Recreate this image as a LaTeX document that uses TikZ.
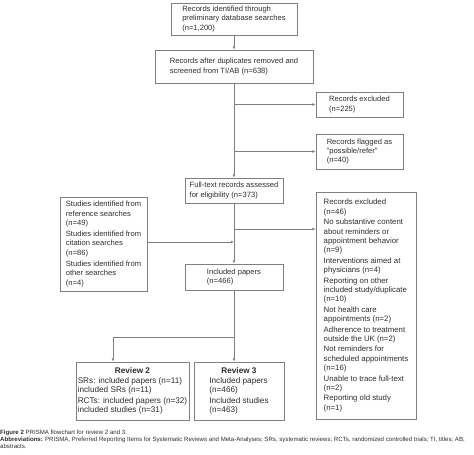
\documentclass[tikz,border=0pt]{standalone}
\usepackage{fontspec}
\usepackage{calc}
\setmainfont{Liberation Sans}
\usetikzlibrary{arrows.meta,positioning,calc}
\definecolor{linegray}{RGB}{128,128,128}
\definecolor{textgray}{RGB}{45,45,45}

\begin{document}
\begin{tikzpicture}[x=1pt,y=-1pt,
    box/.style={draw=linegray, line width=0.7pt, align=left, text=textgray,
        font=\fontsize{7.6}{9.4}\selectfont, inner sep=0pt},
    revbox/.style={box, font=\fontsize{8.2}{9.5}\selectfont},
    arr/.style={draw=linegray, line width=0.7pt, -{Latex[length=3.2pt,width=2.8pt]}},
    ln/.style={draw=linegray, line width=0.7pt}]
    \useasboundingbox (0,0) rectangle (474,455);

    % main column
    \node[box, minimum width=126pt, minimum height=32pt] (ident) at (234,19)
        {Records identified through\\preliminary database searches\\(n=1,200)};
    \node[box, minimum width=158pt, minimum height=33pt] (dedup) at (234,66.5)
        {Records after duplicates removed and\\screened from TI/AB (n=638)};
    \node[box, minimum width=98pt, minimum height=25pt] (full) at (234,190.5)
        {Full-text records assessed\\for eligibility (n=373)};
    \node[box, minimum width=98pt, minimum height=26pt] (incl) at (234,277)
        {Included papers\\(n=466)};

    % right column
    \node[box, minimum width=87pt, minimum height=25pt] (excl1) at (359.5,104.5)
        {Records excluded\\(n=225)};
    \node[box, minimum width=87pt, minimum height=35pt] (flag) at (359.5,151.5)
        {Records flagged as\\"possible/refer"\\(n=40)};
    \node[box, font=\fontsize{7.8}{9.4}\selectfont, minimum width=100pt, minimum height=227pt] (excl2) at (366,305.5)
        {Records excluded\\(n=46)\\[1pt]
         No substantive content\\about reminders or\\appointment behavior\\(n=9)\\[1pt]
         Interventions aimed at\\physicians (n=4)\\[1pt]
         Reporting on other\\included study/duplicate\\(n=10)\\[1pt]
         Not health care\\appointments (n=2)\\[1pt]
         Adherence to treatment\\outside the UK (n=2)\\[1pt]
         Not reminders for\\scheduled appointments\\(n=16)\\[1pt]
         Unable to trace full-text\\(n=2)\\[1pt]
         Reporting old study\\(n=1)};

    % left column
    \node[box, minimum width=87pt, minimum height=94pt] (other) at (103.5,244)
        {Studies identified from\\reference searches\\(n=49)\\[1.5pt]
         Studies identified from\\citation searches\\(n=86)\\[1.5pt]
         Studies identified from\\other searches\\(n=4)};

    % reviews
    \node[revbox, minimum width=113pt, minimum height=58pt] (rev2) at (132.5,391)
        {\makebox[\widthof{RCTs: included papers (n=32)}]{\bfseries Review 2}\\[0.3pt]
         SRs: included papers (n=11)\\included SRs (n=11)\\[0.6pt]
         RCTs: included papers (n=32)\\included studies (n=31)};
    \node[revbox, minimum width=90pt, minimum height=58pt] (rev3) at (239,391)
        {\makebox[\widthof{Included studies}]{\bfseries Review 3}\\[0.3pt]
         Included papers\\(n=466)\\[0.6pt]
         Included studies\\(n=463)};

    % connectors
    \draw[arr] (ident) -- (dedup);
    \draw[arr] (dedup) -- (full);
    \draw[arr] (dedup.south |- excl1.west) -- (excl1.west);
    \draw[arr] (dedup.south |- flag.west) -- (flag.west);
    \draw[arr] (full) -- (incl);
    \coordinate (fork) at (234,229);
    \draw[arr] (fork) -- (fork -| excl2.west);
    \coordinate (oin) at ([yshift=2pt]other.east);
    \draw[arr] (oin) -- (oin -| full.south);
    \coordinate (split) at (234,337);
    \draw[ln] (incl) -- (split);
    \draw[arr] (split) -| ([xshift=-19.5pt]rev2.north);
    \draw[arr] (split) -- (split |- rev3.north);

    % caption
    \node[anchor=north west, inner sep=0pt, align=left, text=textgray,
        font=\fontsize{6.1}{7}\selectfont] (cap) at (0,429.5)
        {\textbf{Figure 2} PRISMA flowchart for review 2 and 3.\\
         \textbf{Abbreviations:} PRISMA, Preferred Reporting Items for Systematic Reviews and Meta-Analyses; SRs, systematic reviews; RCTs, randomized controlled trials; TI, titles; AB,\\
         abstracts.};
\end{tikzpicture}
\end{document}
